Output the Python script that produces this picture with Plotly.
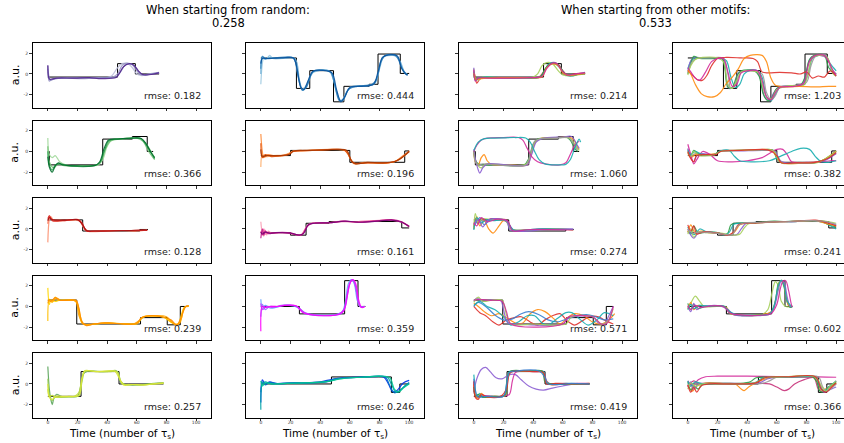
import plotly.graph_objects as go

# ---------------------------------------------------------------
# Target motifs: switch times and the level held from each switch
# ---------------------------------------------------------------
purple_t = [0, 47, 59, 75]
purple_v = [-0.3, 1.0, 0.0, 0.0]
blue_t = [0, 24, 33, 49, 56, 73, 79, 94, 100]
blue_v = [1.55, -1.4, 0.32, -2.7, -1.2, -1.0, 1.93, 0.05, 0.05]
green_t = [0, 1, 37, 57, 67, 71]
green_v = [0.0, -1.3, 1.2, 1.45, 0.0, 0.0]
rust_t = [0, 20, 60, 97, 100]
rust_v = [-0.4, 0.1, -1.05, 0.05, 0.05]
red_t = [0, 23.5, 62, 67.5]
red_v = [0.88, -0.2, -0.05, -0.05]
plum_t = [0, 20, 30.5, 46, 95, 100]
plum_v = [-0.35, -0.6, 0.55, 0.72, 0.1, 0.1]
amber_t = [0, 19.5, 62.5, 80.5, 89.3, 94]
amber_v = [0.62, -1.7, -1.08, -1.78, 0.0, 0.0]
violet_t = [0, 26, 56.5, 65.5, 70.5]
violet_v = [0.0, -0.72, 2.5, 0.0, 0.0]
lime_t = [0, 22.4, 48, 78]
lime_v = [-1.2, 1.2, 0.0, 0.0]
teal_t = [0, 47.6, 88, 93.7, 100]
teal_v = [0.0, 0.68, -0.82, 0.0, 0.0]

# ---------------------------------------------------------------
# Recovered trajectories, starting from random states
# (each run is a list of [time, value] points)
# ---------------------------------------------------------------
purple_runs = [
    [[0, 0.2], [1, -0.6], [3, -0.5], [8, -0.4], [20, -0.4], [30, -0.35], [40, -0.35], [43, -0.2], [47, 0.6], [50, 1.0], [54, 1.0], [57, 0.6], [60, 0.0], [63, -0.15], [68, -0.05], [75, 0.1]],
    [[0, 0.5], [1, -0.7], [3, -0.45], [10, -0.4], [25, -0.45], [35, -0.35], [44, -0.3], [47, 0.0], [50, 0.8], [53, 1.05], [57, 0.9], [60, 0.3], [63, -0.1], [68, 0.0], [75, 0.1]],
    [[0, 0.8], [1, -0.4], [2, -0.6], [5, -0.45], [15, -0.4], [25, -0.35], [32, -0.4], [40, -0.35], [46, -0.3], [49, 0.2], [52, 0.85], [56, 1.0], [59, 0.7], [62, 0.1], [65, -0.1], [70, 0.0], [75, 0.15]],
    [[0, 0.85], [1, -0.5], [3, -0.5], [6, -0.4], [18, -0.4], [28, -0.35], [36, -0.45], [46, -0.35], [48, 0.0], [51, 0.7], [55, 1.0], [58, 0.85], [61, 0.3], [64, -0.05], [70, -0.05], [75, 0.1]],
]
blue_runs = [
    [[0, -1.0], [1, 1.0], [2, 1.6], [4, 1.5], [6, 1.8], [8, 1.5], [15, 1.5], [22, 1.5], [25, 0.0], [28, -1.5], [31, -1.0], [34, 0.0], [38, 0.3], [45, 0.3], [48, 0.0], [51, -1.8], [54, -2.6], [57, -2.0], [60, -1.3], [68, -1.2], [76, -1.0], [79, 0.0], [82, 1.6], [88, 1.8], [92, 1.7], [96, 0.3], [99, -0.1]],
    [[0, 0.0], [1, 1.6], [3, 1.4], [5, 1.6], [12, 1.5], [23, 1.5], [26, -0.6], [28, -1.5], [30, -1.4], [33, -0.4], [36, 0.3], [46, 0.3], [49, -0.6], [53, -2.5], [55, -2.6], [58, -1.7], [62, -1.2], [70, -1.15], [77, -0.9], [80, 0.5], [83, 1.7], [90, 1.8], [94, 1.2], [97, 0.1], [99, -0.05]],
    [[0, 0.5], [1, 1.7], [3, 1.5], [10, 1.55], [22, 1.55], [25, -0.2], [28, -1.6], [31, -1.2], [35, 0.2], [40, 0.35], [47, 0.2], [50, -1.2], [53, -2.6], [56, -2.4], [59, -1.5], [65, -1.2], [75, -1.0], [78, -0.5], [81, 1.2], [84, 1.8], [91, 1.8], [95, 0.6], [98, 0.0], [99, -0.1]],
    [[0, 1.0], [1, 1.5], [4, 1.5], [14, 1.55], [22, 1.55], [24, 0.8], [27, -1.3], [29, -1.5], [32, -0.6], [35, 0.25], [42, 0.35], [48, 0.1], [51, -1.5], [54, -2.7], [57, -2.1], [60, -1.3], [68, -1.2], [76, -1.0], [79, 0.2], [82, 1.6], [86, 1.85], [92, 1.75], [95, 0.5], [98, -0.05], [99, -0.1]],
]
green_runs = [
    [[0, 1.3], [1, -0.3], [3, -0.6], [5, -0.4], [8, -1.0], [12, -1.3], [25, -1.4], [34, -1.3], [37, -0.8], [40, 0.5], [43, 1.1], [50, 1.2], [58, 1.3], [63, 1.2], [67, 0.6], [70, -0.1], [72, -0.6]],
    [[0, 0.5], [1, -1.0], [4, -1.6], [7, -1.2], [10, -1.35], [20, -1.4], [33, -1.3], [36, -0.9], [39, 0.3], [42, 1.0], [48, 1.2], [60, 1.3], [64, 1.0], [68, 0.0], [72, -0.8]],
    [[0, 0.0], [1, -1.3], [3, -1.8], [5, -1.3], [8, -1.2], [15, -1.4], [30, -1.4], [35, -1.1], [38, 0.0], [41, 1.0], [45, 1.2], [55, 1.25], [62, 1.3], [65, 0.9], [69, 0.0], [72, -0.7]],
    [[0, -0.5], [1, -1.5], [3, -2.0], [5, -1.4], [7, -1.1], [10, -1.3], [20, -1.4], [32, -1.35], [35, -1.0], [38, 0.3], [41, 1.1], [47, 1.2], [57, 1.3], [63, 1.25], [66, 0.8], [70, -0.2], [72, -0.6]],
]
rust_runs = [
    [[0, -1.5], [1, -0.3], [3, -0.5], [8, -0.4], [15, -0.35], [19, -0.2], [22, 0.05], [30, 0.1], [45, 0.2], [55, 0.15], [58, 0.0], [61, -0.9], [64, -1.2], [72, -1.05], [82, -1.15], [90, -1.0], [95, -0.6], [100, 0.0]],
    [[0, 1.7], [1, 0.0], [2, -0.6], [5, -0.3], [10, -0.45], [17, -0.35], [21, 0.0], [28, 0.05], [40, 0.15], [50, 0.2], [57, 0.1], [60, -0.6], [63, -1.2], [70, -1.05], [80, -1.15], [90, -1.0], [96, -0.4], [100, 0.0]],
    [[0, 0.8], [1, -0.6], [3, -0.3], [7, -0.5], [14, -0.4], [19, -0.3], [22, 0.0], [35, 0.1], [48, 0.2], [56, 0.15], [59, -0.3], [62, -1.1], [66, -1.15], [76, -1.1], [86, -1.1], [93, -0.8], [100, 0.05]],
    [[0, 0.2], [1, -0.5], [4, -0.4], [12, -0.4], [19, -0.3], [22, 0.05], [32, 0.1], [44, 0.15], [52, 0.2], [58, 0.1], [61, -0.9], [64, -1.2], [72, -1.05], [82, -1.1], [91, -0.95], [96, -0.5], [100, 0.0]],
]
red_runs = [
    [[0, -1.3], [1, 0.9], [2, 1.2], [4, 0.8], [10, 0.8], [19, 0.85], [22, 0.7], [25, -0.1], [28, -0.25], [40, -0.2], [55, -0.15], [67, -0.1]],
    [[0, 0.5], [1, 1.2], [3, 0.9], [8, 0.85], [15, 0.85], [21, 0.9], [24, 0.2], [27, -0.2], [35, -0.2], [50, -0.15], [60, -0.2], [67, -0.1]],
    [[0, 1.0], [1, 1.3], [3, 0.8], [10, 0.8], [20, 0.9], [23, 0.6], [26, -0.2], [32, -0.2], [45, -0.15], [58, -0.15], [67, -0.15]],
    [[0, 0.8], [1, 1.1], [3, 0.9], [12, 0.85], [20, 0.9], [23, 0.5], [26, -0.15], [30, -0.2], [42, -0.2], [55, -0.15], [62, -0.1], [67, -0.1]],
]
plum_runs = [
    [[0, 0.7], [1, -0.4], [2, -0.7], [3, -0.1], [4, -0.6], [5, -0.2], [7, -0.4], [12, -0.35], [20, -0.4], [25, -0.6], [28, -0.5], [31, 0.3], [34, 0.55], [45, 0.6], [55, 0.75], [65, 0.65], [75, 0.75], [85, 0.85], [93, 0.75], [100, 0.3]],
    [[0, -0.2], [1, -0.6], [2, 0.0], [3, -0.5], [5, -0.3], [8, -0.4], [15, -0.35], [22, -0.5], [27, -0.6], [30, 0.0], [33, 0.5], [44, 0.6], [55, 0.7], [65, 0.7], [75, 0.8], [86, 0.85], [94, 0.7], [100, 0.2]],
    [[0, -0.9], [1, 0.0], [2, -0.6], [3, -0.2], [5, -0.45], [10, -0.35], [18, -0.35], [24, -0.55], [28, -0.55], [31, 0.2], [35, 0.55], [46, 0.6], [56, 0.75], [66, 0.65], [76, 0.75], [88, 0.9], [95, 0.7], [100, 0.25]],
    [[0, -0.3], [1, -0.5], [3, -0.3], [6, -0.4], [12, -0.35], [20, -0.4], [26, -0.6], [29, -0.4], [32, 0.4], [36, 0.55], [46, 0.6], [57, 0.75], [67, 0.65], [78, 0.75], [88, 0.85], [95, 0.65], [100, 0.25]],
]
amber_runs = [
    [[0, 1.8], [1, 0.2], [2, 0.6], [5, 0.5], [8, 0.6], [15, 0.6], [19, 0.55], [21, -0.5], [23, -1.6], [26, -1.8], [32, -1.7], [40, -1.6], [50, -1.65], [60, -1.7], [63, -1.2], [66, -0.95], [73, -0.9], [79, -1.1], [84, -1.6], [88, -1.7], [90, -0.8], [92, -0.1], [95, 0.05]],
    [[0, -1.4], [1, 0.6], [3, 0.4], [5, 0.9], [7, 0.6], [12, 0.6], [19, 0.5], [22, -1.0], [24, -1.7], [28, -1.75], [36, -1.65], [45, -1.65], [55, -1.7], [61, -1.55], [64, -1.0], [70, -0.95], [78, -1.05], [83, -1.5], [87, -1.8], [90, -1.2], [92, -0.1], [95, 0.0]],
    [[0, 0.3], [1, 0.7], [3, 0.5], [6, 0.8], [9, 0.6], [16, 0.65], [19, 0.45], [21, -0.9], [24, -1.7], [30, -1.7], [38, -1.6], [48, -1.65], [58, -1.7], [62, -1.3], [65, -1.0], [72, -0.9], [80, -1.0], [85, -1.7], [89, -1.6], [91, -0.5], [93, 0.0], [95, 0.05]],
    [[0, 0.6], [2, 0.5], [5, 0.85], [8, 0.6], [14, 0.6], [19, 0.6], [21, -0.2], [23, -1.5], [26, -1.85], [31, -1.7], [41, -1.6], [51, -1.7], [60, -1.65], [63, -1.1], [68, -0.9], [77, -1.0], [83, -1.3], [87, -1.8], [90, -1.0], [93, 0.0], [95, 0.05]],
]
violet_runs = [
    [[0, 0.7], [1, -0.2], [3, 0.1], [6, -0.15], [10, -0.1], [15, 0.1], [22, 0.05], [26, -0.2], [30, -0.7], [40, -0.85], [50, -0.8], [55, -0.5], [57, 0.5], [59, 2.2], [61, 2.6], [63, 2.2], [65, 0.6], [67, 0.0], [70, 0.0]],
    [[0, -1.0], [1, 0.2], [3, -0.3], [6, 0.0], [10, -0.05], [16, 0.1], [24, 0.0], [28, -0.5], [33, -0.75], [45, -0.85], [54, -0.7], [57, 0.0], [59, 1.6], [61, 2.5], [63, 2.4], [65, 1.0], [67, 0.0], [70, 0.0]],
    [[0, 0.3], [1, -0.3], [4, 0.0], [8, -0.1], [14, 0.1], [24, 0.05], [27, -0.3], [31, -0.7], [42, -0.9], [52, -0.75], [56, -0.3], [58, 1.0], [60, 2.3], [62, 2.6], [64, 1.8], [66, 0.2], [68, -0.1], [70, 0.0]],
    [[0, -2.4], [1, 0.0], [3, -0.1], [7, 0.0], [12, 0.0], [16, 0.1], [24, 0.05], [28, -0.55], [34, -0.8], [44, -0.9], [53, -0.75], [56, -0.4], [58, 0.8], [60, 2.2], [62, 2.6], [64, 2.2], [66, 0.6], [68, -0.1], [70, 0.0]],
]
lime_runs = [
    [[0, 1.7], [1, -0.5], [2, -1.5], [3, -2.0], [4, -1.4], [6, -1.0], [9, -1.2], [15, -1.25], [20, -1.2], [22, -0.3], [24, 1.0], [27, 1.25], [35, 1.2], [44, 1.25], [47, 1.2], [49, 0.2], [52, -0.05], [60, -0.1], [68, 0.0], [78, 0.1]],
    [[0, 0.5], [1, -1.0], [3, -1.6], [5, -1.2], [8, -1.3], [14, -1.2], [21, -1.15], [23, 0.2], [25, 1.2], [30, 1.25], [40, 1.2], [46, 1.3], [48, 0.8], [50, 0.0], [55, -0.05], [62, -0.1], [70, 0.0], [78, 0.1]],
    [[0, -0.5], [1, -1.2], [3, -1.1], [5, -1.3], [10, -1.25], [18, -1.2], [21, -0.8], [23, 0.6], [25, 1.3], [32, 1.2], [42, 1.2], [47, 1.15], [49, 0.3], [52, -0.05], [58, -0.05], [65, -0.1], [72, 0.0], [78, 0.1]],
    [[0, 0.0], [1, -1.3], [3, -1.5], [5, -1.2], [9, -1.2], [16, -1.2], [21, -1.1], [23, 0.4], [25, 1.25], [33, 1.2], [45, 1.25], [48, 0.6], [51, -0.1], [57, -0.05], [64, -0.1], [71, 0.0], [78, 0.05]],
]
teal_runs = [
    [[0, -1.8], [1, 0.4], [3, 0.0], [6, 0.2], [10, 0.05], [20, 0.1], [30, 0.1], [40, 0.2], [48, 0.45], [55, 0.6], [65, 0.65], [75, 0.7], [83, 0.65], [86, 0.0], [89, -0.75], [92, -0.6], [96, 0.1], [100, 0.35]],
    [[0, -0.8], [1, 0.2], [3, -0.1], [6, 0.15], [12, 0.0], [22, 0.1], [35, 0.1], [44, 0.2], [50, 0.5], [60, 0.6], [72, 0.7], [84, 0.65], [87, -0.2], [90, -0.85], [93, -0.7], [97, -0.2], [100, 0.15]],
    [[0, -2.5], [1, 0.0], [3, 0.2], [7, 0.0], [15, 0.05], [26, 0.1], [38, 0.15], [46, 0.25], [52, 0.5], [62, 0.6], [74, 0.7], [85, 0.7], [88, 0.0], [91, -0.8], [94, -0.6], [98, -0.1], [100, 0.1]],
    [[0, 0.3], [1, -0.2], [3, 0.1], [8, 0.0], [18, 0.05], [30, 0.1], [42, 0.2], [49, 0.35], [56, 0.55], [68, 0.65], [80, 0.75], [87, 0.6], [90, -0.5], [93, -0.8], [96, -0.4], [100, 0.0]],
]

# ---------------------------------------------------------------
# Recovered trajectories, starting from the other motifs
# ---------------------------------------------------------------
purple_cross = [
    [[0, 0.3], [1, -0.3], [2, -0.9], [4, -0.5], [7, -0.35], [15, -0.4], [25, -0.4], [35, -0.35], [44, -0.3], [47, 0.2], [50, 0.8], [53, 1.0], [57, 0.9], [60, 0.3], [63, -0.1], [68, 0.0], [75, 0.1]],
    [[0, 0.5], [1, -0.4], [3, -0.6], [6, -0.3], [15, -0.35], [30, -0.35], [40, -0.3], [43, 0.0], [46, 0.8], [49, 1.1], [53, 1.0], [57, 0.3], [60, -0.1], [65, -0.2], [70, -0.1], [75, 0.0]],
    [[0, 0.6], [1, -0.5], [3, -0.4], [8, -0.35], [20, -0.4], [35, -0.35], [45, -0.3], [48, 0.4], [51, 1.0], [55, 1.1], [58, 0.7], [61, 0.0], [64, -0.1], [70, 0.0], [75, 0.15]],
    [[0, 0.2], [1, -0.6], [3, -0.45], [7, -0.3], [18, -0.35], [32, -0.4], [44, -0.35], [47, 0.1], [50, 0.9], [54, 1.05], [58, 0.6], [62, -0.1], [66, -0.2], [70, -0.05], [75, 0.05]],
    [[0, 0.0], [1, -0.5], [4, -0.4], [12, -0.35], [26, -0.35], [40, -0.35], [45, -0.3], [48, 0.5], [52, 1.0], [56, 1.0], [59, 0.5], [62, -0.05], [66, -0.1], [72, 0.0], [75, 0.1]],
    [[0, 0.1], [1, -0.5], [3, -0.5], [8, -0.4], [20, -0.35], [36, -0.35], [46, -0.3], [49, 0.6], [53, 1.0], [57, 0.8], [60, 0.1], [64, -0.15], [70, -0.05], [75, 0.05]],
    [[0, 0.4], [1, -0.7], [3, -0.4], [10, -0.4], [24, -0.4], [38, -0.35], [46, -0.25], [49, 0.5], [53, 1.05], [56, 1.0], [59, 0.4], [63, -0.1], [69, 0.0], [75, 0.1]],
]
blue_cross = [
    [[0, 0.5], [2, 1.2], [5, 1.55], [12, 1.5], [22, 1.55], [26, 1.3], [29, -0.3], [32, -1.3], [35, -1.0], [38, 0.0], [42, 0.35], [47, 0.3], [50, -0.3], [53, -2.2], [56, -2.6], [59, -2.0], [62, -1.3], [70, -1.2], [78, -1.0], [81, 0.0], [84, 1.5], [88, 1.8], [93, 1.75], [96, 1.0], [100, 0.3]],
    [[0, 0.3], [2, 1.3], [4, 1.6], [10, 1.55], [20, 1.5], [24, 1.4], [26, -0.5], [28, -1.4], [31, -1.2], [34, 0.1], [38, 0.3], [46, 0.35], [49, -0.5], [52, -2.3], [55, -2.5], [58, -1.8], [61, -1.3], [70, -1.15], [77, -1.0], [80, 0.3], [83, 1.6], [89, 1.8], [94, 1.5], [97, 0.3], [100, -0.2]],
    [[0, 0.0], [2, 1.0], [4, 1.7], [8, 1.5], [18, 1.5], [23, 1.55], [25, 0.5], [27, -1.3], [30, -1.3], [33, -0.2], [36, 0.3], [45, 0.3], [48, -0.2], [51, -2.0], [54, -2.6], [57, -2.2], [60, -1.4], [68, -1.2], [76, -1.05], [79, -0.3], [82, 1.4], [86, 1.85], [92, 1.8], [95, 0.6], [99, 0.0]],
    [[0, 0.1], [3, 1.2], [6, 1.5], [15, 1.55], [24, 1.5], [27, 0.0], [29, -1.4], [32, -1.1], [36, 0.2], [44, 0.3], [50, 0.0], [53, -1.8], [56, -2.5], [59, -2.1], [62, -1.3], [72, -1.1], [80, -0.8], [83, 0.8], [86, 1.7], [93, 1.8], [97, 0.5], [100, 0.0]],
    [[0, -0.1], [2, 0.8], [5, 1.4], [10, 1.6], [20, 1.55], [24, 1.2], [27, -1.0], [30, -1.4], [33, -0.6], [36, 0.2], [44, 0.3], [48, 0.1], [51, -1.5], [54, -2.4], [57, -2.3], [60, -1.5], [68, -1.15], [78, -1.1], [81, 0.0], [84, 1.6], [90, 1.8], [94, 1.6], [98, 0.0], [100, -0.2]],
    [[0, 0.3], [3, -0.1], [7, -0.6], [10, -0.6], [13, -0.1], [16, 0.8], [20, 1.5], [26, 1.6], [36, 1.55], [44, 1.5], [47, 1.2], [50, 0.2], [54, 0.1], [62, 0.15], [70, 0.1], [76, 0.0], [80, 0.2], [84, -0.4], [88, -0.2], [92, -0.3], [96, 0.3], [100, -0.2]],
    [[0, 0.4], [2, 0.0], [5, -1.0], [9, -1.9], [13, -2.2], [18, -2.2], [22, -1.8], [26, -0.9], [30, -0.3], [34, 0.5], [38, 1.5], [42, 1.8], [50, 1.8], [53, 1.2], [56, -0.4], [59, -1.1], [65, -1.25], [75, -1.2], [85, -1.25], [95, -1.2], [100, -1.2]],
    [[0, 0.6], [2, 0.2], [5, -0.4], [8, -0.6], [12, 0.2], [16, 1.2], [20, 1.5], [24, 1.5], [27, 0.2], [30, -1.2], [33, -1.0], [36, 0.1], [40, 0.3], [47, 0.3], [50, -0.6], [53, -2.2], [56, -2.5], [59, -1.8], [62, -1.3], [72, -1.2], [78, -0.9], [82, 1.2], [86, 1.8], [92, 1.8], [95, 1.2], [98, 0.3], [100, -0.1]],
]
green_cross = [
    [[0, 0.0], [1, -0.8], [3, -1.2], [8, -1.3], [20, -1.35], [34, -1.3], [37, -0.7], [40, 0.7], [43, 1.2], [52, 1.3], [62, 1.4], [65, 1.1], [68, 0.3], [70, 0.0]],
    [[0, 0.0], [1, -1.0], [3, -1.3], [5, -0.6], [7, -0.3], [9, -0.9], [12, -1.25], [25, -1.3], [36, -1.3], [39, 0.0], [42, 1.0], [45, 1.25], [55, 1.35], [63, 1.4], [67, 1.2], [70, 0.4], [71, 0.2]],
    [[0, 0.0], [1, -0.9], [3, -1.4], [5, -1.6], [8, -1.2], [20, -1.3], [35, -1.25], [38, -0.5], [41, 0.8], [44, 1.2], [58, 1.35], [65, 1.25], [69, 0.5], [71, 0.1]],
    [[0, 0.2], [1, -0.7], [3, -1.8], [4, -2.1], [6, -1.6], [9, -1.2], [22, -1.3], [36, -1.3], [39, -0.3], [42, 0.9], [46, 1.25], [60, 1.4], [66, 1.45], [69, 0.8], [71, 0.3]],
    [[0, 0.0], [1, -1.0], [3, -1.3], [6, -1.2], [15, -1.3], [35, -1.3], [38, -0.3], [41, 1.0], [45, 1.25], [57, 1.3], [64, 1.35], [67, 0.8], [70, 0.1]],
    [[0, 0.0], [2, 0.6], [5, 1.1], [9, 1.3], [20, 1.35], [30, 1.35], [33, 1.1], [36, 0.3], [39, -0.5], [43, -1.0], [48, -1.2], [58, -1.3], [62, -1.1], [65, -0.3], [68, 0.6], [71, 1.0]],
    [[0, 0.1], [3, 0.9], [7, 1.25], [14, 1.3], [28, 1.35], [35, 1.3], [38, 0.9], [41, 0.0], [44, -0.8], [48, -1.2], [56, -1.3], [62, -1.25], [65, -0.8], [68, 0.3], [71, 1.2], [72, 0.9]],
]
rust_cross = [
    [[0, 0.0], [2, -0.5], [5, -0.2], [10, -0.3], [18, -0.25], [22, 0.05], [35, 0.1], [50, 0.15], [58, 0.1], [61, -0.6], [64, -1.1], [75, -1.05], [85, -1.1], [92, -0.8], [100, -0.2]],
    [[0, 0.2], [2, -0.4], [4, 0.1], [8, -0.3], [18, -0.3], [21, 0.0], [35, 0.1], [48, 0.15], [57, 0.15], [60, -0.7], [63, -1.1], [75, -1.1], [87, -1.05], [94, -0.6], [100, 0.05]],
    [[0, -0.1], [2, -0.6], [5, -0.3], [12, -0.3], [19, -0.2], [23, 0.05], [40, 0.1], [56, 0.15], [59, -0.3], [62, -1.0], [66, -1.15], [80, -1.1], [90, -0.9], [96, -0.4], [100, 0.05]],
    [[0, 0.3], [2, -0.6], [4, -1.0], [6, -0.4], [10, -0.2], [18, -0.3], [22, 0.0], [36, 0.05], [52, 0.1], [59, 0.0], [62, -0.9], [66, -1.1], [82, -1.1], [92, -0.9], [100, -0.2]],
    [[0, 0.7], [2, -0.3], [4, -1.2], [6, -0.8], [10, 0.0], [15, -0.3], [20, -0.9], [30, -1.0], [40, -0.9], [50, -0.6], [56, -0.1], [60, 0.2], [64, 0.2], [67, -0.3], [70, -1.0], [80, -1.05], [90, -1.0], [96, -0.9], [100, -0.9]],
    [[0, 0.1], [2, -0.3], [5, 0.0], [10, -0.3], [18, -0.3], [22, 0.05], [28, 0.1], [31, -0.4], [35, -0.9], [45, -1.0], [55, -0.9], [62, -0.5], [70, 0.0], [76, 0.3], [82, 0.2], [86, -0.5], [90, -1.0], [95, -1.05], [100, -0.9]],
    [[0, -0.2], [2, -0.5], [4, 0.0], [8, -0.4], [18, -0.3], [22, 0.0], [36, 0.1], [50, 0.15], [58, 0.05], [61, -0.8], [64, -1.15], [78, -1.1], [88, -1.05], [95, -0.5], [100, 0.0]],
    [[0, 0.0], [2, -0.7], [4, -1.0], [6, -0.4], [12, -0.3], [19, -0.3], [22, 0.0], [36, 0.1], [54, 0.15], [60, -0.4], [63, -1.1], [74, -1.1], [86, -1.05], [94, -0.7], [100, -0.1]],
]
red_cross = [
    [[0, 0.0], [1, 1.0], [3, 0.5], [5, 1.0], [8, 0.8], [12, 1.0], [18, 0.9], [22, 0.9], [25, 0.1], [27, -0.1], [45, -0.05], [67, -0.05]],
    [[0, 0.3], [2, 1.2], [4, 0.3], [7, 0.8], [10, 0.0], [13, -0.4], [17, 0.3], [20, 0.8], [23, 0.6], [26, -0.1], [40, -0.05], [50, 0.0], [67, -0.1]],
    [[0, 0.2], [2, 0.7], [4, 1.1], [7, 0.4], [11, 0.9], [20, 0.9], [24, 0.4], [27, -0.1], [48, 0.0], [67, -0.05]],
    [[0, 0.0], [1, 1.5], [3, 0.6], [6, 1.0], [12, 0.9], [21, 0.9], [25, 0.0], [40, -0.1], [55, 0.0], [67, -0.1]],
    [[0, -0.1], [2, 1.1], [5, 0.6], [9, 0.9], [14, 0.8], [22, 0.85], [26, -0.05], [44, 0.0], [67, -0.05]],
    [[0, 0.4], [3, 0.9], [6, 0.2], [10, 0.9], [22, 0.8], [24.5, -0.1], [50, -0.05], [67, 0.0]],
    [[0, 0.6], [2, 0.3], [5, 1.1], [9, 0.7], [16, 0.95], [23, 0.75], [26, -0.15], [38, -0.05], [67, -0.1]],
]
plum_cross = [
    [[0, -0.2], [2, -0.5], [4, 0.3], [7, -0.4], [12, -0.3], [20, -0.35], [24, -0.55], [27, -0.4], [29, 0.4], [32, 0.55], [45, 0.6], [58, 0.75], [70, 0.7], [82, 0.8], [90, 0.75], [95, 0.4], [100, 0.2]],
    [[0, 0.2], [2, -0.4], [5, -0.5], [8, 0.0], [13, -0.3], [20, -0.35], [25, -0.6], [28, -0.3], [31, 0.45], [36, 0.55], [48, 0.65], [60, 0.7], [72, 0.75], [84, 0.8], [92, 0.6], [100, 0.0]],
    [[0, -0.3], [2, 0.4], [5, -0.4], [9, -0.2], [14, -0.35], [22, -0.45], [28, -0.6], [32, -0.2], [35, 0.4], [40, 0.55], [50, 0.65], [62, 0.7], [75, 0.75], [86, 0.8], [94, 0.5], [100, 0.3]],
    [[0, 0.0], [2, -0.6], [4, -0.9], [7, -0.4], [11, -0.3], [20, -0.4], [28, -0.6], [33, -0.55], [36, 0.0], [39, 0.5], [48, 0.6], [60, 0.7], [72, 0.7], [84, 0.8], [93, 0.7], [100, 0.4]],
    [[0, -0.5], [2, 0.0], [4, -0.8], [7, -0.3], [12, -0.35], [22, -0.4], [30, -0.6], [35, -0.5], [38, 0.1], [41, 0.5], [50, 0.6], [62, 0.7], [76, 0.75], [88, 0.8], [95, 0.7], [100, 0.55]],
    [[0, 0.4], [2, -0.2], [4, 0.3], [6, -0.5], [10, -0.3], [20, -0.4], [27, -0.6], [31, -0.3], [34, 0.4], [38, 0.55], [50, 0.6], [62, 0.7], [74, 0.75], [86, 0.85], [94, 0.6], [100, 0.3]],
    [[0, 0.0], [3, -0.4], [7, -0.3], [15, -0.35], [24, -0.5], [30, -0.55], [33, 0.2], [37, 0.55], [50, 0.65], [65, 0.7], [80, 0.8], [92, 0.75], [100, 0.45]],
]
amber_cross = [
    [[0, 0.0], [4, -0.6], [8, -0.9], [13, -1.5], [17, -1.8], [22, -1.3], [27, -1.1], [32, -1.0], [38, -1.5], [43, -1.8], [48, -1.3], [53, -0.9], [58, -0.7], [63, -1.4], [68, -1.8], [73, -1.4], [78, -1.0], [84, -1.0], [89, -1.4], [94, -1.7]],
    [[0, 0.3], [3, 0.0], [7, -0.5], [12, -0.9], [17, -0.7], [22, -1.1], [28, -1.6], [33, -1.6], [38, -0.7], [43, -0.3], [48, -0.5], [54, -1.2], [58, -1.7], [63, -1.1], [68, -0.7], [74, -0.9], [80, -1.5], [86, -1.7], [91, -1.3], [95, -0.7]],
    [[0, 0.0], [3, 0.4], [8, 0.0], [14, -0.8], [20, -1.3], [26, -1.2], [32, -0.7], [37, -0.5], [44, -0.8], [50, -1.3], [56, -1.5], [63, -1.2], [70, -0.9], [76, -0.8], [82, -1.0], [88, -1.3], [94, -1.2]],
    [[0, 0.1], [4, 0.5], [9, 0.0], [14, -0.3], [20, -1.0], [25, -1.8], [30, -1.5], [36, -0.9], [41, -0.9], [46, -1.6], [50, -1.8], [56, -1.2], [62, -0.6], [66, -0.6], [72, -1.3], [77, -1.8], [83, -1.3], [88, -0.6], [94, -0.9]],
    [[0, 0.5], [2, 0.8], [6, 0.5], [10, 0.6], [18, 0.6], [20, -0.3], [23, -1.6], [30, -1.7], [60, -1.7], [63, -1.2], [67, -1.0], [80, -1.0], [84, -1.6], [88, -1.7], [91, -0.9], [94, 0.0]],
    [[0, 0.4], [3, 0.9], [6, 0.5], [12, 0.6], [19, 0.6], [22, -0.8], [25, -1.7], [40, -1.7], [62, -1.7], [66, -1.0], [80, -1.0], [86, -1.7], [90, -1.5], [94, -0.2]],
    [[0, 0.6], [4, 0.7], [10, 0.6], [19, 0.5], [22, -0.5], [25, -1.7], [60, -1.7], [64, -1.0], [80, -1.0], [86, -1.7], [90, -1.6], [94, 0.0]],
]
violet_cross = [
    [[0, -0.3], [2, 0.3], [5, 1.0], [8, 0.5], [11, 0.0], [20, 0.0], [26, -0.1], [29, -0.7], [40, -0.9], [50, -0.8], [54, -0.3], [57, 1.5], [59, 2.4], [61, 2.0], [63, 0.5], [66, 0.0], [70, 0.0]],
    [[0, 0.3], [2, -0.3], [4, 0.2], [7, -0.2], [12, 0.0], [20, 0.05], [25, 0.0], [28, -0.6], [34, -0.85], [50, -0.8], [56, -0.6], [59, 0.5], [61, 2.2], [63, 2.5], [65, 1.8], [67, 0.4], [69, -0.1], [70.5, 0.0]],
    [[0, -0.2], [2, 0.4], [4, -0.3], [7, 0.1], [12, 0.0], [20, 0.05], [26, -0.1], [29, -0.7], [36, -0.85], [52, -0.75], [57, -0.4], [60, 1.2], [62, 2.4], [64, 2.5], [66, 1.2], [68, 0.1], [70.5, 0.0]],
    [[0, 0.0], [2, -0.5], [4, 0.3], [6, -0.3], [10, 0.0], [22, 0.05], [27, -0.3], [31, -0.8], [45, -0.9], [55, -0.7], [58, -0.2], [61, 1.6], [63, 2.5], [65, 2.3], [67, 0.9], [69, 0.0], [70.5, 0.0]],
    [[0, -0.3], [2, 0.2], [4, -0.2], [8, 0.1], [15, 0.0], [24, 0.05], [28, -0.5], [33, -0.8], [48, -0.85], [55, -0.75], [58, 0.0], [61, 2.0], [63, 2.55], [65, 2.0], [67, 0.5], [70, 0.0]],
    [[0, 0.1], [2, -0.3], [5, 0.1], [9, -0.1], [16, 0.05], [24, 0.0], [28, -0.6], [34, -0.8], [50, -0.85], [56, -0.7], [60, 0.2], [62, 1.5], [64, 2.4], [66, 2.5], [68, 1.5], [70, 0.1], [70.5, 0.0]],
]
lime_cross = [
    [[0, -0.8], [2, 0.5], [5, 1.4], [8, 1.6], [11, 1.2], [15, 0.6], [19, 0.5], [24, 0.9], [28, 0.9], [32, 0.4], [37, -0.2], [42, -0.5], [47, -0.6], [53, -0.4], [60, -0.2], [68, 0.0], [78, 0.0]],
    [[0, 0.2], [1, -1.2], [3, -1.3], [6, -1.1], [12, -1.2], [20, -1.2], [24, -1.0], [26, 0.3], [28, 1.1], [32, 1.25], [42, 1.2], [47, 1.2], [49, 0.3], [52, -0.05], [60, 0.0], [70, 0.05], [78, 0.05]],
    [[0, 0.9], [1, -0.5], [2, -1.3], [4, -0.9], [6, -1.3], [10, -1.2], [20, -1.2], [22, 0.0], [24, 1.2], [30, 1.25], [40, 1.25], [47, 1.2], [49, 0.2], [52, 0.0], [62, 0.05], [78, 0.0]],
    [[0, 0.0], [1, -1.0], [3, -1.4], [5, -0.9], [8, -1.3], [14, -1.2], [21, -1.15], [23, 0.5], [25, 1.2], [35, 1.25], [46, 1.2], [48, 0.5], [51, -0.05], [60, 0.0], [70, 0.0], [78, 0.05]],
    [[0, -0.3], [1, -1.2], [3, -1.0], [6, -1.3], [12, -1.2], [21, -1.1], [23, 0.8], [25, 1.25], [37, 1.25], [46, 1.25], [48, 0.2], [51, 0.0], [65, 0.0], [78, 0.0]],
    [[0, 0.3], [1, -1.3], [3, -1.5], [5, -1.0], [9, -1.25], [18, -1.2], [22, -0.5], [24, 1.0], [27, 1.25], [40, 1.2], [47, 1.1], [49, 0.0], [55, 0.05], [78, 0.0]],
    [[0, 0.5], [2, -1.1], [4, -1.3], [8, -1.2], [20, -1.2], [22, -0.2], [24, 1.1], [28, 1.25], [44, 1.25], [48, 0.6], [50, 0.0], [66, 0.05], [78, 0.0]],
]
teal_cross = [
    [[0, 0.3], [3, -0.2], [7, 0.4], [12, 0.7], [20, 0.75], [40, 0.75], [60, 0.72], [80, 0.72], [100, 0.65]],
    [[0, -0.2], [4, 0.3], [8, 0.0], [20, 0.0], [30, 0.0], [45, 0.05], [55, 0.0], [60, -0.3], [65, -0.65], [68, -0.5], [72, 0.0], [78, 0.4], [85, 0.6], [88, -0.5], [92, -0.8], [96, -0.3], [100, 0.3]],
    [[0, -0.1], [3, -0.7], [6, -0.2], [12, 0.1], [25, 0.05], [32, 0.0], [36, -0.5], [38, -0.65], [41, -0.3], [45, 0.05], [55, 0.6], [70, 0.7], [85, 0.65], [90, -0.6], [95, -0.3], [100, 0.1]],
    [[0, 0.2], [2, -0.6], [4, -0.2], [7, -0.5], [10, 0.0], [20, 0.05], [35, 0.05], [42, 0.2], [46, 0.6], [55, 0.65], [70, 0.7], [84, 0.7], [87, 0.2], [89, -0.7], [92, -0.75], [95, -0.3], [100, 0.2]],
    [[0, -0.3], [2, 0.2], [4, -0.5], [7, 0.0], [12, 0.05], [30, 0.05], [48, 0.1], [54, 0.5], [60, 0.65], [75, 0.7], [86, 0.7], [89, 0.0], [92, -0.8], [95, -0.6], [100, -0.3]],
    [[0, 0.0], [3, -0.3], [6, 0.1], [12, 0.0], [30, 0.05], [50, 0.05], [55, 0.3], [60, 0.65], [75, 0.7], [88, 0.7], [91, -0.3], [94, -0.7], [97, -0.4], [100, 0.0]],
    [[0, 0.3], [2, -0.2], [5, 0.2], [10, 0.0], [25, 0.05], [45, 0.1], [50, 0.55], [58, 0.65], [72, 0.7], [86, 0.65], [89, -0.3], [92, -0.7], [95, -0.3], [100, 0.3]],
    [[0, -0.5], [2, 0.1], [5, -0.2], [10, 0.0], [25, 0.0], [45, 0.1], [52, 0.6], [66, 0.7], [86, 0.7], [90, -0.2], [93, -0.7], [96, -0.2], [100, 0.25]],
    [[0, -0.1], [2, -0.8], [4, -0.3], [6, -0.8], [9, -0.2], [14, 0.0], [30, 0.0], [46, 0.1], [52, 0.6], [68, 0.7], [86, 0.7], [90, -0.5], [93, -0.8], [97, -0.3], [100, 0.1]],
]

# reconstruction errors shown in each panel
rmse_random = ["0.182", "0.444", "0.366", "0.196", "0.128", "0.161", "0.239", "0.359", "0.257", "0.246"]
rmse_cross = ["0.214", "1.203", "1.060", "0.382", "0.274", "0.241", "0.571", "0.602", "0.419", "0.366"]
mean_random = "0.258"
mean_cross = "0.533"

# ---------------------------------------------------------------
# Colours
# ---------------------------------------------------------------
shades = {
    "purple": ["#bcbddc", "#9e9ac8", "#807dba", "#54278f"],
    "blue": ["#9ecae1", "#6baed6", "#3182bd", "#08519c"],
    "green": ["#a1d99b", "#74c476", "#31a354", "#006d2c"],
    "rust": ["#fdae6b", "#fd8d3c", "#e6550d", "#a63603"],
    "red": ["#fc9272", "#fb6a4a", "#de2d26", "#a50f15"],
    "plum": ["#fa9fb5", "#f768a1", "#c51b8a", "#7a0177"],
    "amber": ["#ffd700", "#ffbf00", "#ffa500", "#ff8c00"],
    "violet": ["#66a3ff", "#8c73ff", "#c040ff", "#ff00ff"],
    "lime": ["#5aa55a", "#9acd50", "#c2dd3c", "#dde83a"],
    "teal": ["#0033e6", "#0070c8", "#00a3a8", "#00c890"],
}
RED, ORANGE, BLUE, GREEN = "#e0302c", "#ff8c0f", "#3a7fd0", "#2ea048"
PURPLE, MAGENTA, CYAN, YGREEN, GRAY = "#8c5fd3", "#d42c9c", "#17aeb0", "#a6d05a", "#9a9a9a"

cross_colors = {
    "purple": [RED, YGREEN, PURPLE, CYAN, GREEN, ORANGE, MAGENTA],
    "blue": [CYAN, PURPLE, GREEN, GRAY, YGREEN, RED, ORANGE, MAGENTA],
    "green": [GREEN, ORANGE, YGREEN, PURPLE, GRAY, MAGENTA, CYAN],
    "rust": [GRAY, GREEN, ORANGE, PURPLE, MAGENTA, CYAN, YGREEN, RED],
    "red": [RED, ORANGE, BLUE, YGREEN, CYAN, PURPLE, MAGENTA],
    "plum": [GREEN, CYAN, ORANGE, PURPLE, YGREEN, RED, GRAY],
    "amber": [RED, ORANGE, BLUE, CYAN, PURPLE, YGREEN, MAGENTA],
    "violet": [YGREEN, GREEN, ORANGE, PURPLE, CYAN, MAGENTA],
    "lime": [PURPLE, MAGENTA, CYAN, ORANGE, GREEN, RED, BLUE],
    "teal": [MAGENTA, "#c8327a", ORANGE, GREEN, PURPLE, GRAY, CYAN, YGREEN, RED],
}

# motif order in the grid: row-major within each half of the figure
motifs = [
    ("purple", purple_t, purple_v, purple_runs, purple_cross),
    ("blue", blue_t, blue_v, blue_runs, blue_cross),
    ("green", green_t, green_v, green_runs, green_cross),
    ("rust", rust_t, rust_v, rust_runs, rust_cross),
    ("red", red_t, red_v, red_runs, red_cross),
    ("plum", plum_t, plum_v, plum_runs, plum_cross),
    ("amber", amber_t, amber_v, amber_runs, amber_cross),
    ("violet", violet_t, violet_v, violet_runs, violet_cross),
    ("lime", lime_t, lime_v, lime_runs, lime_cross),
    ("teal", teal_t, teal_v, teal_runs, teal_cross),
]

# ---------------------------------------------------------------
# Figure geometry (pixels)
# ---------------------------------------------------------------
W, H = 844, 443
COL_LEFT = [33, 246, 459, 673]
PANEL_W = 178
ROW_TOP = [43, 120.5, 198, 275.5, 353]
PANEL_H = 64.5
X_SPAN = 120.0  # -10 .. 110
Y_RANGE = [-3.25, 3.0]

fig = go.Figure()
annotations = []
layout_axes = {}


def px_x(p):
    return p / W


def px_y(p):
    return 1 - p / H


def add_panel(idx, row, col, tt, tv, runs, colors, rmse):
    n = idx + 1
    xa = "x" if n == 1 else f"x{n}"
    ya = "y" if n == 1 else f"y{n}"
    left = COL_LEFT[col]
    right_full = left + PANEL_W
    right = min(right_full, W)
    xmax = -10 + X_SPAN * (right - left) / PANEL_W
    top = ROW_TOP[row]
    bottom = top + PANEL_H

    # target motif underneath the recovered runs
    fig.add_trace(go.Scatter(
        x=tt, y=tv, mode="lines", line=dict(color="black", width=1.0, shape="hv"),
        xaxis=xa, yaxis=ya, showlegend=False, hoverinfo="skip"))
    for run, colr in zip(runs, colors):
        fig.add_trace(go.Scatter(
            x=[p[0] for p in run], y=[p[1] for p in run], mode="lines",
            line=dict(color=colr, width=1.2, shape="spline", smoothing=0.9),
            opacity=0.9, xaxis=xa, yaxis=ya, showlegend=False, hoverinfo="skip"))

    key_x = "xaxis" if n == 1 else f"xaxis{n}"
    key_y = "yaxis" if n == 1 else f"yaxis{n}"
    layout_axes[key_x] = dict(
        domain=[px_x(left), px_x(right)], range=[-10, xmax], anchor=ya,
        showline=True, linecolor="black", linewidth=1, mirror=True,
        ticks="outside", ticklen=2.5, tickwidth=0.8, tickcolor="#333",
        tickvals=[0, 20, 40, 60, 80, 100], showticklabels=(row == 4),
        ticklabelstandoff=-2,
        tickfont=dict(size=4.5, color="#333"), showgrid=False, zeroline=False)
    layout_axes[key_y] = dict(
        domain=[px_y(bottom), px_y(top)], range=Y_RANGE, anchor=xa,
        showline=True, linecolor="black", linewidth=1, mirror=(right == right_full),
        ticks="outside", ticklen=3, tickwidth=0.8, tickcolor="#333",
        tickvals=[-2, 0, 2], ticktext=["-2", "0", "2"], showticklabels=(col == 0),
        tickfont=dict(size=4.5, color="#333"), showgrid=False, zeroline=False)

    annotations.append(dict(
        text=f"rmse: {rmse}", xref="paper", yref="paper",
        x=px_x(right_full - 8), y=px_y(bottom - 4), xanchor="right", yanchor="bottom",
        showarrow=False, font=dict(size=9.5, color="#222")))


idx = 0
for half in range(2):
    for m, (name, tt, tv, runs, cross) in enumerate(motifs):
        row, sub = divmod(m, 2)
        col = half * 2 + sub
        if half == 0:
            add_panel(idx, row, col, tt, tv, runs, shades[name], rmse_random[m])
        else:
            add_panel(idx, row, col, tt, tv, cross, cross_colors[name], rmse_cross[m])
        idx += 1

# section titles
for cx, line1, line2 in [((COL_LEFT[0] + COL_LEFT[1] + PANEL_W) / 2, "When starting from random:", mean_random),
                         ((COL_LEFT[2] + COL_LEFT[3] + PANEL_W) / 2, "When starting from other motifs:", mean_cross)]:
    annotations.append(dict(text=line1, xref="paper", yref="paper", x=px_x(cx), y=px_y(10),
                            xanchor="center", yanchor="middle", showarrow=False,
                            font=dict(size=11.5, color="black")))
    annotations.append(dict(text=line2, xref="paper", yref="paper", x=px_x(cx), y=px_y(23.5),
                            xanchor="center", yanchor="middle", showarrow=False,
                            font=dict(size=11.5, color="black")))

# y labels on the first column
for r in range(5):
    annotations.append(dict(text="a.u.", xref="paper", yref="paper", x=px_x(15),
                            y=px_y(ROW_TOP[r] + PANEL_H / 2), textangle=-90,
                            xanchor="center", yanchor="middle", showarrow=False,
                            font=dict(size=11, color="black")))

# x labels under each column
for c in range(4):
    annotations.append(dict(text="Time (number of τ<sub>s</sub>)", xref="paper", yref="paper",
                            x=px_x(COL_LEFT[c] + PANEL_W / 2), y=0,
                            xanchor="center", yanchor="bottom", showarrow=False,
                            font=dict(size=10.5, color="black")))

fig.update_layout(
    width=W, height=H, margin=dict(l=0, r=0, t=0, b=0),
    paper_bgcolor="white", plot_bgcolor="white",
    font=dict(family="DejaVu Sans"),
    annotations=annotations, showlegend=False,
    **layout_axes)

fig.write_html("out.html")
